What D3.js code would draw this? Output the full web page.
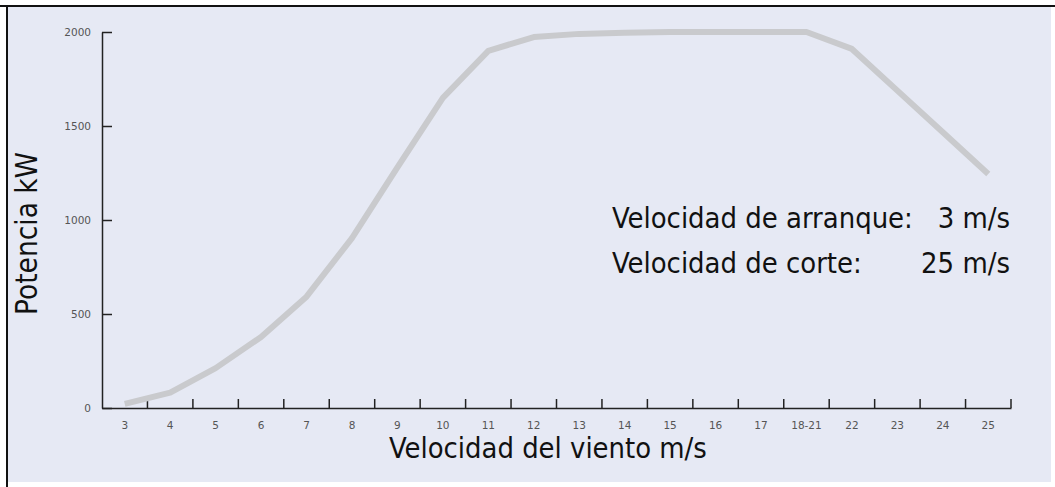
<!DOCTYPE html>
<html>
<head>
<meta charset="utf-8">
<script src="https://cdn.jsdelivr.net/npm/d3@7"></script>
<style>
  html, body { margin: 0; padding: 0; background: #ffffff; }
  svg { display: block; }
</style>
</head>
<body>
<script>
// ---- data ----
const categories = ["3","4","5","6","7","8","9","10","11","12","13","14","15","16","17","18-21","22","23","24","25"];
const powerKW = [22, 82, 212, 378, 592, 904, 1280, 1650, 1900, 1973, 1990, 1996, 2000, 2000, 2000, 2000, 1910, 1688, 1467, 1245];
const yTicks = [0, 500, 1000, 1500, 2000];
const yLabel = "Potencia kW";
const xLabel = "Velocidad del viento m/s";
const notes = [
  ["Velocidad de arranque:", "3 m/s"],
  ["Velocidad de corte:", "25 m/s"]
];

const W = 1055, H = 487;
const svg = d3.select("body").append("svg").attr("width", W).attr("height", H);

// panel background and frame
svg.append("rect").attr("x", 7).attr("y", 6).attr("width", 1044).attr("height", 476).attr("fill", "#e6e9f4");
svg.append("line").attr("x1", 0).attr("x2", W).attr("y1", 6).attr("y2", 6).attr("stroke", "#111").attr("stroke-width", 2);
svg.append("line").attr("x1", 7).attr("x2", 7).attr("y1", 5).attr("y2", H).attr("stroke", "#111").attr("stroke-width", 2);

const x = d3.scaleBand().domain(categories).range([102, 1011]).padding(0);
const y = d3.scaleLinear().domain([0, 2000]).range([408, 32]);

const font = "Tahoma, 'DejaVu Sans Condensed', 'DejaVu Sans', sans-serif";
const tickFont = "'DejaVu Sans', Verdana, sans-serif";

// y axis
const gy = svg.append("g").attr("transform", "translate(102,0)")
  .call(d3.axisLeft(y).tickValues(yTicks).tickFormat(d3.format("d")).tickSize(-10).tickPadding(11).tickSizeOuter(0));
gy.select(".domain").attr("stroke", "#222").attr("stroke-width", 1.5);
gy.selectAll(".tick line").attr("stroke", "#222").attr("stroke-width", 1.5);
gy.selectAll(".tick text").attr("fill", "#555").style("font-family", tickFont).style("font-size", "10.5px");

// x axis: labels centred in bands, ticks at band boundaries
const gx = svg.append("g").attr("transform", "translate(0,408)")
  .call(d3.axisBottom(x).tickSize(0).tickPadding(14).tickSizeOuter(0));
gx.select(".domain").attr("stroke", "#222").attr("stroke-width", 1.5);
gx.selectAll(".tick text").attr("fill", "#555").style("font-family", tickFont).style("font-size", "10.5px");
gx.selectAll(".boundary").data(categories).enter().append("line")
  .attr("class", "boundary")
  .attr("x1", d => x(d) + x.bandwidth()).attr("x2", d => x(d) + x.bandwidth())
  .attr("y1", 0).attr("y2", -9)
  .attr("stroke", "#222").attr("stroke-width", 1.5);

// power curve
const line = d3.line()
  .x((d, i) => x(categories[i]) + x.bandwidth() / 2)
  .y(d => y(d));
svg.append("path").datum(powerKW)
  .attr("d", line)
  .attr("fill", "none")
  .attr("stroke", "#c9cacd")
  .attr("stroke-width", 6)
  .attr("stroke-linejoin", "round");

// helper to fit text to a measured width
function fit(sel, width) {
  const len = sel.node().getComputedTextLength();
  const fs = parseFloat(sel.style("font-size"));
  sel.style("font-size", (fs * width / len) + "px");
}

// axis titles
const xt = svg.append("text").attr("x", 389).attr("y", 458)
  .style("font-family", font).style("font-size", "27px").attr("fill", "#111").text(xLabel);
fit(xt, 318);

const yt = svg.append("text").attr("transform", "translate(37,315) rotate(-90)")
  .style("font-family", font).style("font-size", "27px").attr("fill", "#111").text(yLabel);
fit(yt, 163);

// annotations
const noteY = [228, 273];
const first = svg.append("text").attr("x", 612).attr("y", noteY[0])
  .style("font-family", font).style("font-size", "26px").attr("fill", "#111").text(notes[0][0]);
fit(first, 301);
const noteSize = first.style("font-size");
notes.forEach((n, i) => {
  if (i > 0) {
    svg.append("text").attr("x", 612).attr("y", noteY[i])
      .style("font-family", font).style("font-size", noteSize).attr("fill", "#111").text(n[0]);
  }
  svg.append("text").attr("x", 1010).attr("y", noteY[i]).attr("text-anchor", "end")
    .style("font-family", font).style("font-size", noteSize).attr("fill", "#111").text(n[1]);
});
</script>
</body>
</html>
